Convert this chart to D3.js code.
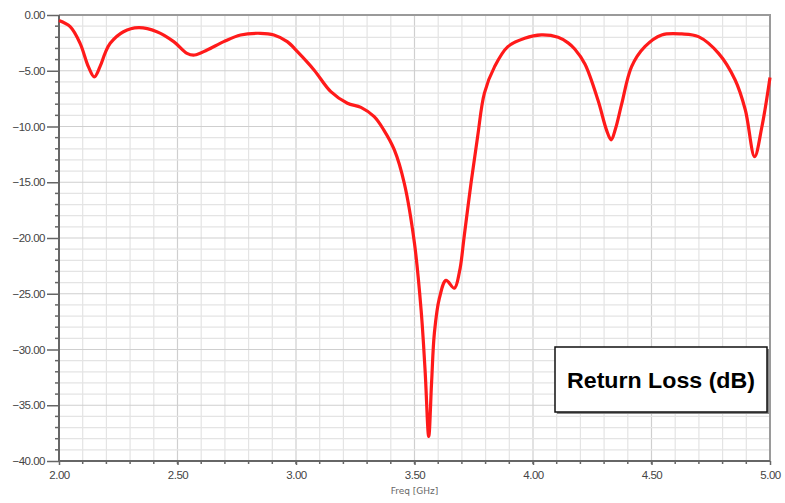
<!DOCTYPE html>
<html>
<head>
<meta charset="utf-8">
<script src="https://cdn.jsdelivr.net/npm/d3@7"></script>
<style>
  body { margin: 0; background: #fff; }
  svg { display: block; font-family: Tahoma, "DejaVu Sans", Arial, sans-serif; }
</style>
</head>
<body>
<svg id="chart" width="785" height="503"></svg>
<script>
// frequency (GHz) and return loss (dB)
const freqs = [2.000, 2.047, 2.089, 2.124, 2.149, 2.173, 2.195, 2.216, 2.272, 2.336, 2.413, 2.484, 2.540,
  2.572, 2.625, 2.695, 2.766, 2.850, 2.907, 2.963, 3.006, 3.076, 3.147, 3.217, 3.274, 3.330, 3.370,
  3.415, 3.457, 3.500, 3.528, 3.545, 3.560, 3.572, 3.584, 3.605, 3.633, 3.668, 3.690, 3.710, 3.739,
  3.767, 3.795, 3.838, 3.894, 3.965, 4.035, 4.106, 4.148, 4.176, 4.219, 4.275, 4.310, 4.330, 4.348,
  4.374, 4.416, 4.472, 4.543, 4.628, 4.698, 4.783, 4.853, 4.896, 4.935, 4.966, 5.000];
const returnLoss = [-0.50, -1.05, -2.54, -4.63, -5.55, -4.63, -3.40, -2.54, -1.50, -1.14, -1.50, -2.39, -3.44,
  -3.59, -3.14, -2.39, -1.79, -1.64, -1.79, -2.39, -3.29, -4.93, -6.88, -7.92, -8.28, -9.12, -10.3,
  -12.1, -15.1, -20.5, -26.5, -32.0, -37.8, -33.0, -28.5, -25.4, -23.8, -24.5, -23.0, -19.8, -15.0,
  -10.8, -7.0, -4.63, -2.84, -2.09, -1.79, -2.00, -2.50, -3.05, -4.40, -7.7, -10.3, -11.2, -10.2,
  -8.0, -4.63, -2.84, -1.79, -1.70, -1.94, -3.44, -5.83, -8.52, -12.7, -10.0, -5.6];
const xTicks = [2.0, 2.5, 3.0, 3.5, 4.0, 4.5, 5.0];
const yTicks = [0, -5, -10, -15, -20, -25, -30, -35, -40];
const xLabel = "Freq [GHz]";
const legendText = "Return Loss (dB)";

const data = freqs.map((f, i) => ({ f, db: returnLoss[i] }));

const svg = d3.select("#chart");
const L = 59, R = 770, T = 15, B = 461;

const x = d3.scaleLinear().domain([2, 5]).range([L, R]);
const y = d3.scaleLinear().domain([-40, 0]).range([B, T]);

// grid
const grid = svg.append("g");
grid.selectAll(".vx")
  .data(d3.range(2.1, 5.0, 0.1))
  .join("line")
  .attr("x1", d => x(d)).attr("x2", d => x(d))
  .attr("y1", T).attr("y2", B)
  .attr("stroke", d => Math.abs(d * 2 - Math.round(d * 2)) < 1e-6 ? "#cfcfcf" : "#e4e4e4")
  .attr("stroke-width", 1.2);
grid.selectAll(".hy")
  .data(d3.range(-39, 0, 1))
  .join("line")
  .attr("x1", L).attr("x2", R)
  .attr("y1", d => y(d)).attr("y2", d => y(d))
  .attr("stroke", d => d % 5 === 0 ? "#cfcfcf" : "#e4e4e4")
  .attr("stroke-width", 1.2);

// top / right frame
svg.append("path")
  .attr("d", `M${L},${T}H${R}V${B}`)
  .attr("fill", "none")
  .attr("stroke", "#9a9a9a")
  .attr("stroke-width", 2);

// y axis
const yAxis = svg.append("g").attr("transform", `translate(${L},0)`)
  .call(d3.axisLeft(y).tickValues(yTicks).tickSize(12).tickPadding(2).tickFormat(d3.format(".2f")));
yAxis.select(".domain").remove();
yAxis.selectAll(".tick line").attr("stroke", "#666").attr("stroke-width", 1.5);
yAxis.selectAll(".tick text")
  .attr("fill", "#444").style("font-size", "11.5px").style("letter-spacing", "-0.5px");
svg.append("g").selectAll("line")
  .data(d3.range(-39, 0, 1).filter(d => d % 5 !== 0))
  .join("line")
  .attr("x1", L - 4).attr("x2", L)
  .attr("y1", d => y(d)).attr("y2", d => y(d))
  .attr("stroke", "#666").attr("stroke-width", 1.5);

// x axis
const xAxis = svg.append("g").attr("transform", `translate(0,${B})`)
  .call(d3.axisBottom(x).tickValues(xTicks).tickSize(4).tickPadding(6).tickFormat(d3.format(".2f")));
xAxis.select(".domain").remove();
xAxis.selectAll(".tick line").attr("stroke", "#666").attr("stroke-width", 1.5);
xAxis.selectAll(".tick text")
  .attr("fill", "#444").style("font-size", "11.5px").style("letter-spacing", "-0.5px");
svg.append("g").selectAll("line")
  .data(d3.range(2.1, 5.0, 0.1))
  .join("line")
  .attr("x1", d => x(d)).attr("x2", d => x(d))
  .attr("y1", B).attr("y2", B + 3)
  .attr("stroke", "#666").attr("stroke-width", 1.5);

svg.append("line").attr("x1", L).attr("x2", R).attr("y1", B).attr("y2", B)
  .attr("stroke", "#666").attr("stroke-width", 2);
svg.append("line").attr("x1", L).attr("x2", L).attr("y1", T).attr("y2", B)
  .attr("stroke", "#666").attr("stroke-width", 2);

svg.append("text")
  .attr("x", x(3.5)).attr("y", 494)
  .attr("text-anchor", "middle")
  .attr("fill", "#666")
  .style("font-size", "9px")
  .text(xLabel);

// curve
const line = d3.line()
  .x(d => x(d.f))
  .y(d => y(d.db))
  .curve(d3.curveCatmullRom.alpha(0.5));

svg.append("path")
  .datum(data)
  .attr("fill", "none")
  .attr("stroke", "#ff1a1a")
  .attr("stroke-width", 3.2)
  .attr("stroke-linejoin", "round")
  .attr("d", line);

// legend box
const lg = svg.append("g");
lg.append("rect")
  .attr("x", 557).attr("y", 349).attr("width", 212).attr("height", 65)
  .attr("fill", "#888");
lg.append("rect")
  .attr("x", 555).attr("y", 347).attr("width", 212).attr("height", 65)
  .attr("fill", "#fff").attr("stroke", "#111").attr("stroke-width", 1.5);
lg.append("text")
  .attr("x", 661).attr("y", 388)
  .attr("text-anchor", "middle")
  .attr("fill", "#000")
  .style("font-family", "Arial, 'Liberation Sans', sans-serif")
  .style("font-weight", "bold")
  .style("font-size", "22px")
  .attr("textLength", 188)
  .attr("lengthAdjust", "spacingAndGlyphs")
  .text(legendText);
</script>
</body>
</html>
